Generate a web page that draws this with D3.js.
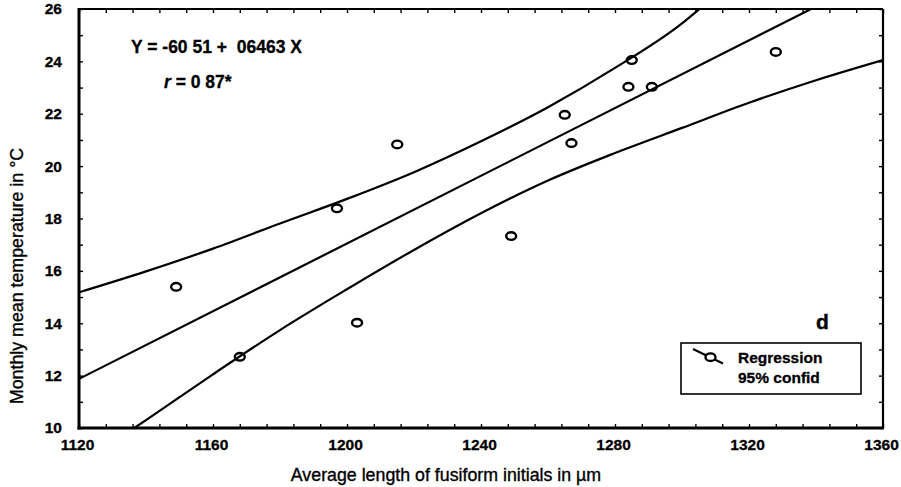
<!DOCTYPE html>
<html>
<head>
<meta charset="utf-8">
<script src="https://cdn.jsdelivr.net/npm/d3@7/dist/d3.min.js"></script>
<style>
  html, body { margin: 0; padding: 0; background: #fff; }
  svg { display: block; }
  text { font-family: "Liberation Sans", Arial, sans-serif; fill: #000; }
</style>
</head>
<body>
<svg id="chart" width="901" height="487"></svg>
<script>
// Observations: fusiform initial length (µm) vs monthly mean temperature (°C)
const lengthUm = [1149, 1168, 1197, 1203, 1215, 1249, 1265, 1267, 1284, 1285, 1291, 1328];
const tempC    = [15.39, 12.72, 18.39, 14.02, 20.83, 17.33, 21.96, 20.88, 23.03, 24.05, 23.03, 24.36];

// Regression coefficients as printed on the chart
const intercept = -60.51;
const slope = 0.06463;

// 95% confidence band
const bandX     = [1120, 1140, 1160, 1180, 1200, 1220, 1240, 1260, 1280, 1300, 1305.2];
const bandUpper = [15.18, 15.98, 16.85, 17.81, 18.75, 19.77, 20.95, 22.25, 23.75, 25.45, 26.0];
const lowX      = [1136.5, 1140, 1160, 1180, 1200, 1220, 1240, 1260, 1280, 1300, 1320, 1340, 1360];
const bandLower = [10.0, 10.3, 12.05, 13.74, 15.3, 16.8, 18.2, 19.45, 20.5, 21.46, 22.42, 23.28, 24.05];

// Axis ticks
const xLabels = [1120, 1160, 1200, 1240, 1280, 1320, 1360];
const yLabels = [10, 12, 14, 16, 18, 20, 22, 24, 26];
const xMinor = d3.range(1120, 1361, 8);
const yMinor = d3.range(10, 26.01, 1);

const svg = d3.select("#chart");
const L = 79, R = 883, T = 9, B = 428;

const x = d3.scaleLinear().domain([1120, 1360]).range([L, R]);
const y = d3.scaleLinear().domain([10, 26]).range([B, T]);

svg.append("defs").append("clipPath").attr("id", "plotClip")
  .append("rect").attr("x", L).attr("y", T).attr("width", R - L).attr("height", B - T);

const plot = svg.append("g").attr("clip-path", "url(#plotClip)");

const line = d3.line().x(d => x(d[0])).y(d => y(d[1])).curve(d3.curveMonotoneX);

// Confidence band curves
plot.append("path")
  .attr("d", line(bandX.map((v, i) => [v, bandUpper[i]])))
  .attr("fill", "none").attr("stroke", "#000").attr("stroke-width", 2.2);
plot.append("path")
  .attr("d", line(lowX.map((v, i) => [v, bandLower[i]])))
  .attr("fill", "none").attr("stroke", "#000").attr("stroke-width", 2.2);

// Regression line
const regEnds = [1120, 1360].map(v => [v, intercept + slope * v]);
plot.append("path")
  .attr("d", d3.line().x(d => x(d[0])).y(d => y(d[1]))(regEnds))
  .attr("fill", "none").attr("stroke", "#000").attr("stroke-width", 2.2);

// Data points
plot.selectAll("ellipse.pt")
  .data(lengthUm.map((v, i) => [v, tempC[i]]))
  .join("ellipse")
  .attr("class", "pt")
  .attr("cx", d => x(d[0])).attr("cy", d => y(d[1]))
  .attr("rx", 5).attr("ry", 3.8)
  .attr("fill", "none").attr("stroke", "#000").attr("stroke-width", 2.4);

// Inward minor ticks on all four sides
function minorTicks(g) {
  g.select(".domain").remove();
  g.selectAll("line").attr("stroke-width", 1.4);
}
svg.append("g").attr("transform", `translate(0,${B})`)
  .call(d3.axisBottom(x).tickValues(xMinor).tickSize(-4).tickFormat("")).call(minorTicks);
svg.append("g").attr("transform", `translate(0,${T})`)
  .call(d3.axisTop(x).tickValues(xMinor).tickSize(-4).tickFormat("")).call(minorTicks);
svg.append("g").attr("transform", `translate(${L},0)`)
  .call(d3.axisLeft(y).tickValues(yMinor).tickSize(-4).tickFormat("")).call(minorTicks);
svg.append("g").attr("transform", `translate(${R},0)`)
  .call(d3.axisRight(y).tickValues(yMinor).tickSize(-4).tickFormat("")).call(minorTicks);

// Frame
svg.append("line").attr("x1", L).attr("x2", R).attr("y1", T).attr("y2", T).attr("stroke", "#000").attr("stroke-width", 2.2);
svg.append("line").attr("x1", R).attr("x2", R).attr("y1", T).attr("y2", B).attr("stroke", "#000").attr("stroke-width", 2.2);
svg.append("line").attr("x1", L).attr("x2", L).attr("y1", T - 1).attr("y2", B + 1.5).attr("stroke", "#000").attr("stroke-width", 3);
svg.append("line").attr("x1", L - 1.5).attr("x2", R + 1).attr("y1", B).attr("y2", B).attr("stroke", "#000").attr("stroke-width", 3);

// Tick labels
const xAx = svg.append("g").attr("transform", `translate(0,${B})`)
  .call(d3.axisBottom(x).tickValues(xLabels).tickSize(0).tickPadding(0).tickFormat(d3.format("d")));
xAx.select(".domain").remove();
xAx.selectAll("text").attr("y", 22).attr("dy", null)
  .attr("font-size", 15.5).attr("font-weight", "bold").attr("stroke", "#000").attr("stroke-width", 0.3)
  .attr("font-family", "Liberation Sans, Arial, sans-serif").attr("dx", -2);

const yAx = svg.append("g").attr("transform", `translate(${L},0)`)
  .call(d3.axisLeft(y).tickValues(yLabels).tickSize(0).tickPadding(17).tickFormat(d3.format("d")));
yAx.select(".domain").remove();
yAx.selectAll("text").attr("font-size", 15.5).attr("font-weight", "bold")
  .attr("stroke", "#000").attr("stroke-width", 0.3)
  .attr("font-family", "Liberation Sans, Arial, sans-serif");

// Axis titles
svg.append("text")
  .attr("x", 446).attr("y", 481).attr("text-anchor", "middle")
  .attr("font-size", 17.8).attr("stroke", "#000").attr("stroke-width", 0.35)
  .text("Average length of fusiform initials in µm");
svg.append("text")
  .attr("transform", "translate(23,276) rotate(-90)").attr("text-anchor", "middle")
  .attr("font-size", 17.8).attr("stroke", "#000").attr("stroke-width", 0.35)
  .text("Monthly mean temperature in °C");

// Equation and correlation
svg.append("text")
  .attr("x", 131).attr("y", 52.5).attr("font-size", 17.5).attr("font-weight", "bold")
  .attr("stroke", "#000").attr("stroke-width", 0.3)
  .style("white-space", "pre")
  .text("Y = -60 51 +  06463 X");
const rT = svg.append("text").attr("x", 164).attr("y", 88).attr("font-size", 17.5).attr("font-weight", "bold")
  .attr("stroke", "#000").attr("stroke-width", 0.3)
  .style("white-space", "pre");
rT.append("tspan").attr("font-style", "italic").text("r");
rT.append("tspan").text(" = 0 87*");

// Panel letter
svg.append("text").attr("x", 816).attr("y", 328.5).attr("font-size", 21).attr("font-weight", "bold")
  .attr("stroke", "#000").attr("stroke-width", 0.4).text("d");

// Legend
const lg = svg.append("g");
lg.append("rect").attr("x", 681).attr("y", 343).attr("width", 180).attr("height", 51)
  .attr("fill", "#fff").attr("stroke", "#000").attr("stroke-width", 1.6);
lg.append("line").attr("x1", 693).attr("y1", 349).attr("x2", 723).attr("y2", 363.5)
  .attr("stroke", "#000").attr("stroke-width", 2);
lg.append("ellipse").attr("cx", 710.5).attr("cy", 357.2).attr("rx", 5).attr("ry", 3.8)
  .attr("fill", "#fff").attr("stroke", "#000").attr("stroke-width", 2.4);
lg.append("text").attr("x", 738).attr("y", 363).attr("font-size", 15.5).attr("font-weight", "bold")
  .attr("stroke", "#000").attr("stroke-width", 0.3).text("Regression");
lg.append("text").attr("x", 738).attr("y", 383).attr("font-size", 15.5).attr("font-weight", "bold")
  .attr("stroke", "#000").attr("stroke-width", 0.3).text("95% confid");
</script>
</body>
</html>
